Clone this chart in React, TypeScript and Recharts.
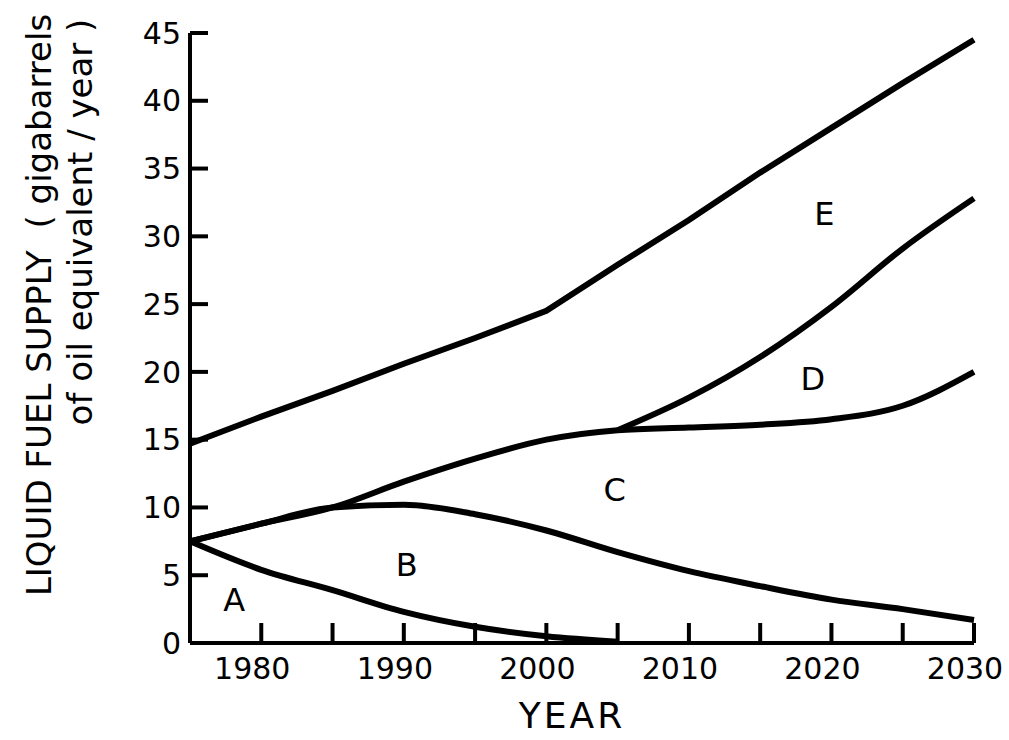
import { LineChart, Line, XAxis, YAxis, ReferenceDot, Label } from "recharts";

// years on the x axis
const years = [1975, 1980, 1985, 1990, 1995, 2000, 2005, 2010, 2015, 2020, 2025, 2030];

// cumulative tops of each band (gigabarrels / year)
const topE = [14.7, 16.7, 18.6, 20.6, 22.5, 24.5, 27.9, 31.2, 34.7, 38.0, 41.3, 44.5];
const topD = [null, null, null, null, null, null, 15.7, 18.1, 21.1, 24.8, 29.1, 32.8];
const topC = [7.5, 8.8, 10.0, 11.9, 13.6, 15.0, 15.7, 15.9, 16.1, 16.5, 17.5, 20];
const topB = [7.5, 8.8, 10.0, 10.2, 9.5, 8.3, 6.7, 5.3, 4.2, 3.2, 2.5, 1.7];
const topA = [7.5, 5.4, 3.9, 2.3, 1.2, 0.5, 0.1, null, null, null, null, null];

const xTicks = [1980, 1985, 1990, 1995, 2000, 2005, 2010, 2015, 2020, 2025, 2030];
const yTicks = [0, 5, 10, 15, 20, 25, 30, 35, 40, 45];

// region letters and where they sit
const regionNames = ["A", "B", "C", "D", "E"];
const regionYears = [1978.1, 1990.2, 2004.8, 2018.7, 2019.5];
const regionValues = [3.2, 5.8, 11.3, 19.5, 31.7];

const data = years.map((year, i) => ({
  year,
  a: topA[i],
  b: topB[i],
  c: topC[i],
  d: topD[i],
  e: topE[i],
}));

const FONT = "'DejaVu Sans', sans-serif";
const axisStyle = { stroke: "#000", strokeWidth: 4 };
const tickFont = { fill: "#000", fontSize: 30, fontFamily: FONT };

// year labels sit a little left of their ticks, like the original print
const YearTick = ({ x, y, payload }: any) => {
  if (payload.value % 10 !== 0) return null;
  return (
    <text
      x={x - 9}
      y={y}
      dy={24}
      textAnchor="middle"
      fill="#000"
      fontSize={30}
      fontFamily={FONT}
    >
      {payload.value}
    </text>
  );
};

const YTitle = () => (
  <g fontFamily={FONT} fontSize={34} fill="#000">
    <text
      transform="translate(39,305) rotate(-90)"
      textAnchor="middle"
      dominantBaseline="central"
      style={{ whiteSpace: "pre" }}
    >
      LIQUID FUEL SUPPLY  ( gigabarrels
    </text>
    <text
      transform="translate(80,222) rotate(-90)"
      textAnchor="middle"
      dominantBaseline="central"
      style={{ whiteSpace: "pre" }}
    >
      of oil equivalent / year )
    </text>
  </g>
);

export default function App() {
  const lineProps = {
    xAxisId: "bottom",
    yAxisId: "left",
    stroke: "#000",
    strokeWidth: 6,
    dot: false,
    isAnimationActive: false,
    connectNulls: false,
  };
  return (
    <div style={{ position: "absolute", left: 0, top: 0, background: "#fff" }}>
      <LineChart
        width={1009}
        height={740}
        data={data}
        margin={{ top: 33, right: 35, left: 0, bottom: 0 }}
      >
        <XAxis
          xAxisId="bottom"
          dataKey="year"
          type="number"
          domain={[1975, 2030]}
          ticks={xTicks}
          height={97}
          axisLine={axisStyle}
          tickLine={axisStyle}
          tickSize={-20}
          tickMargin={32}
          tick={<YearTick />}
          interval={0}
        >
          <Label
            value="YEAR"
            position="insideBottom"
            offset={12}
            dx={-10}
            style={{ fill: "#000", fontSize: 36, fontFamily: FONT, letterSpacing: 3 }}
          />
        </XAxis>
        <XAxis
          xAxisId="top"
          orientation="top"
          dataKey="year"
          type="number"
          domain={[1975, 2030]}
          ticks={xTicks}
          tickFormatter={() => ""}
          height={0}
          axisLine={axisStyle}
          tickLine={axisStyle}
          tickSize={-17}
          interval={0}
        />
        <YAxis
          yAxisId="left"
          type="number"
          domain={[0, 45]}
          ticks={yTicks}
          width={190}
          axisLine={axisStyle}
          tickLine={axisStyle}
          tickSize={-18}
          tickMargin={27}
          tick={tickFont}
          interval={0}
        >
          <Label content={() => <YTitle />} />
        </YAxis>
        <YAxis
          yAxisId="right"
          orientation="right"
          type="number"
          domain={[0, 45]}
          ticks={yTicks}
          tickFormatter={() => ""}
          width={0}
          axisLine={axisStyle}
          tickLine={axisStyle}
          tickSize={-18}
          interval={0}
        />
        <Line {...lineProps} type="linear" dataKey="e" />
        <Line {...lineProps} type="monotone" dataKey="d" />
        <Line {...lineProps} type="monotone" dataKey="c" />
        <Line {...lineProps} type="monotone" dataKey="b" />
        <Line {...lineProps} type="monotone" dataKey="a" />
        {regionNames.map((name, i) => (
          <ReferenceDot
            key={name}
            xAxisId="bottom"
            yAxisId="left"
            x={regionYears[i]}
            y={regionValues[i]}
            r={0}
            stroke="none"
            fill="none"
            label={{
              value: name,
              position: "center",
              fill: "#000",
              fontSize: 32,
              fontFamily: FONT,
            }}
          />
        ))}
      </LineChart>
    </div>
  );
}
